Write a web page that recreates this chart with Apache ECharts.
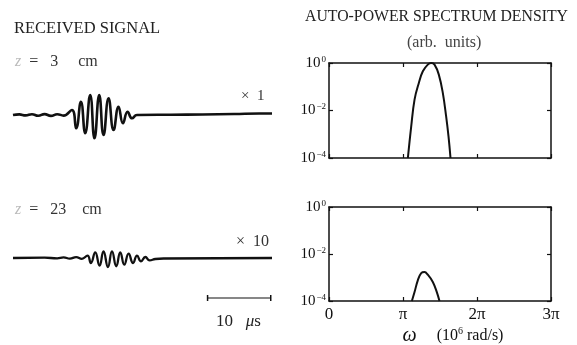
<!DOCTYPE html>
<html>
<head>
<meta charset="UTF-8">
<title></title>
<script src="https://cdn.jsdelivr.net/npm/echarts@6.0.0/dist/echarts.min.js"></script>
<style type="text/css">
*{margin:0;padding:0;}
#main{width:577px;height:345px;}
</style>
</head>
<body>
<div id="main"></div>
<script type="text/javascript">
// received signal, time in microseconds, amplitude in arb. units
var signal3cm = [[0,0],[1,0.6],[2,-0.4],[3,0.8],[4,-0.8],[5,0.9],[6,-0.9],[7,0.8],[8,-0.6],
	[9.32,5],[10.0,-13.3],[10.75,13.3],[11.43,-18.3],[12.22,20],[12.9,-23.3],[13.65,20],[14.33,-20],
	[15.13,16.7],[15.92,-15],[16.71,8.3],[17.41,-8.3],[18.14,3.3],[18.84,-3.3],[19.63,0],
	[25,0.3],[30,0.5],[35,1],[39,1.5],[41,1.5]];
var signal23cm = [[0,0],[5,0.3],[7,-0.3],[8,0.6],[9,-0.6],[10,0.8],[10.9,-0.8],
	[11.79,2.3],[12.33,-5],[13.02,5.7],[13.70,-7.7],[14.33,6.7],[15.03,-9],[15.67,6.7],[16.35,-8.3],
	[16.98,5.7],[17.62,-6.7],[18.30,4.3],[19.0,-5],[19.63,2.3],[20.27,-3.3],[20.95,1],[21.63,-2.3],
	[22.54,-1],[24,-0.5],[41,0]];
var scaleBar = [[30.8,0],[40.8,0]];

// spectrum: omega in units of pi (10^6 rad/s), log10 of power
var spectrum3cm = [[1.066,-4],[1.111,-2.67],[1.156,-1.54],[1.214,-0.84],[1.268,-0.35],[1.335,-0.07],
	[1.381,0],[1.426,-0.07],[1.484,-0.49],[1.538,-1.26],[1.583,-2.25],[1.615,-3.09],[1.642,-4]];
var spectrum23cm = [[1.12,-4],[1.156,-3.62],[1.2,-3.12],[1.246,-2.81],[1.291,-2.77],[1.335,-2.88],
	[1.403,-3.19],[1.457,-3.62],[1.493,-4]];

var xTickLabels = ['0','π','2π','3π'];
var yTickExp = {'0':'0','-2':'−2','-4':'−4'};

var serif = 'Liberation Serif';
var ink = '#111';

var myChart = echarts.init(document.getElementById('main'));

function sigX(){
	return {type:'value',min:0,max:41,show:false};
}
function sigY(){
	return {type:'value',min:-30,max:30,show:false};
}
function specX(grid,bottom,labels){
	return {
		type:'value',gridIndex:grid,min:0,max:3,interval:1,
		position: bottom ? 'bottom' : 'top',
		splitLine:{show:false},
		axisLine:{show:true,onZero:false,lineStyle:{color:ink,width:1.5}},
		axisTick:{show:true,inside:true,length:4,lineStyle:{color:ink,width:1.2}},
		axisLabel:{show:labels,margin:5,fontFamily:serif,fontSize:17,color:ink,
			formatter:function(v){return xTickLabels[Math.round(v)];}}
	};
}
function specY(grid,left){
	return {
		type:'value',gridIndex:grid,min:-4,max:0,interval:2,
		position: left ? 'left' : 'right',
		splitLine:{show:false},
		axisLine:{show:true,onZero:false,lineStyle:{color:ink,width:1.5}},
		axisTick:{show:true,inside:true,length:4,lineStyle:{color:ink,width:1.2}},
		axisLabel:{show:left,margin:3,fontFamily:serif,fontSize:15,color:ink,
			formatter:function(v){return '10{s|'+yTickExp[String(v)]+'}';},
			rich:{s:{fontFamily:serif,fontSize:9,color:ink,verticalAlign:'top',padding:[0,0,7,1]}}}
	};
}

var option = {
	animation:false,
	backgroundColor:'#fff',
	grid:[
		{left:13,top:85,width:259,height:60,outerBoundsMode:'none'},
		{left:13,top:228,width:259,height:60,outerBoundsMode:'none'},
		{left:13,top:292,width:259,height:12,outerBoundsMode:'none'},
		{left:329,top:63,width:222,height:95,outerBoundsMode:'none'},
		{left:329,top:207,width:222,height:94,outerBoundsMode:'none'}
	],
	xAxis:[
		Object.assign(sigX(),{gridIndex:0}),
		Object.assign(sigX(),{gridIndex:1}),
		Object.assign(sigX(),{gridIndex:2}),
		specX(3,true,false),specX(3,false,false),
		Object.assign(specX(4,true,true),{
			name:'{w|ω}     (10{s|6} rad/s)',nameLocation:'middle',nameGap:25,
			nameTextStyle:{fontFamily:serif,fontSize:16,color:ink,padding:[0,0,0,26],
				rich:{w:{fontFamily:serif,fontStyle:'italic',fontSize:20,color:ink},
					s:{fontFamily:serif,fontSize:10,color:ink,verticalAlign:'top',padding:[0,0,7,0]}}}
		}),
		specX(4,false,false)
	],
	yAxis:[
		Object.assign(sigY(),{gridIndex:0}),
		Object.assign(sigY(),{gridIndex:1}),
		{type:'value',gridIndex:2,min:-1,max:1,show:false},
		specY(3,true),specY(3,false),
		specY(4,true),specY(4,false)
	],
	series:[
		{type:'line',xAxisIndex:0,yAxisIndex:0,data:signal3cm,smooth:0.5,showSymbol:false,
			lineStyle:{color:ink,width:2.6}},
		{type:'line',xAxisIndex:1,yAxisIndex:1,data:signal23cm,smooth:0.5,showSymbol:false,
			lineStyle:{color:ink,width:2.3}},
		{type:'line',xAxisIndex:2,yAxisIndex:2,data:scaleBar,symbol:'rect',symbolSize:[1.5,6],
			showSymbol:true,itemStyle:{color:ink},lineStyle:{color:ink,width:1.2}},
		{type:'line',xAxisIndex:3,yAxisIndex:3,data:spectrum3cm,smooth:0.4,showSymbol:false,
			lineStyle:{color:ink,width:2}},
		{type:'line',xAxisIndex:5,yAxisIndex:5,data:spectrum23cm,smooth:0.4,showSymbol:false,
			lineStyle:{color:ink,width:2}}
	],
	graphic:[
		{type:'text',left:14,top:20,style:{text:'RECEIVED SIGNAL',fontFamily:serif,fontSize:16.5,fill:'#222'}},
		{type:'text',left:305,top:9,style:{text:'AUTO-POWER SPECTRUM DENSITY',fontFamily:serif,fontSize:15.8,fill:'#222'}},
		{type:'text',left:407,top:35,style:{text:'(arb.  units)',fontFamily:serif,fontSize:16,fill:'#444'}},
		{type:'text',left:15,top:54,style:{
			text:'{z|z}  =   3     cm',fontFamily:serif,fontSize:16,fill:'#333',
			rich:{z:{fontFamily:serif,fontStyle:'italic',fontSize:16,fill:'#bbb'}}}},
		{type:'text',left:15,top:202,style:{
			text:'{z|z}  =   23    cm',fontFamily:serif,fontSize:16,fill:'#333',
			rich:{z:{fontFamily:serif,fontStyle:'italic',fontSize:16,fill:'#bbb'}}}},
		{type:'text',left:241,top:89,style:{text:'×  1',fontFamily:serif,fontSize:15,fill:'#333'}},
		{type:'text',left:236,top:234,style:{text:'×  10',fontFamily:serif,fontSize:16,fill:'#333'}},
		{type:'text',left:216,top:313,style:{
			text:'10   {m|μ}s',fontFamily:serif,fontSize:17,fill:'#222',
			rich:{m:{fontFamily:serif,fontStyle:'italic',fontSize:17,fill:'#222'}}}}
	]
};
myChart.setOption(option);
</script>
</body>
</html>
